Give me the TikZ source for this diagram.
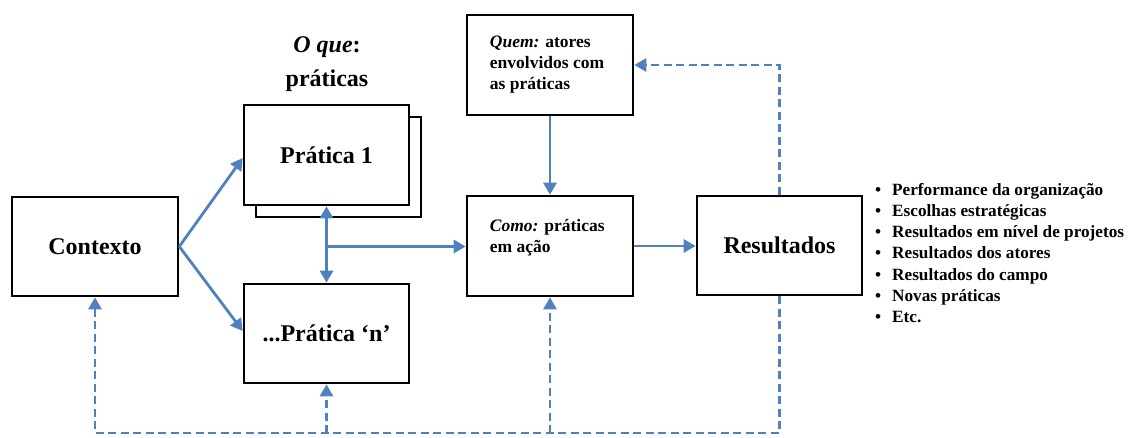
\documentclass[tikz,border=0pt]{standalone}
\usepackage{fontspec}
\setmainfont{Liberation Serif}
\usetikzlibrary{arrows.meta,calc,shadows}
\definecolor{lineblue}{RGB}{79,129,189}
\begin{document}
\begin{tikzpicture}[x=1pt,y=-1pt,
  box/.style={draw=black,line width=2.6pt,fill=white,inner sep=0pt,
    drop shadow={opacity=0.25,shadow xshift=1.2pt,shadow yshift=-1.2pt}},
  bigtxt/.style={font={\fontsize{24}{28}\selectfont\bfseries}},
  smalltxt/.style={font={\fontsize{17.5}{21.2}\selectfont\bfseries},align=left,inner sep=0pt},
  conn/.style={draw=lineblue,line width=2.8pt,-{Triangle[length=12pt,width=13pt]}},
  dconn/.style={draw=lineblue,line width=2.8pt,dash pattern=on 8pt off 4.5pt},
  dtip/.style={-{Triangle[length=12pt,width=13pt]}}
]
\useasboundingbox (0,0) rectangle (1129,437);

% title
\node[anchor=north,align=center,inner sep=0pt,
  font={\fontsize{24}{34}\selectfont\bfseries}] (title) at (327,36)
  {\textit{O que}:\\práticas};

% boxes
\node[box,minimum width=166pt,minimum height=99pt,bigtxt] (ctx) at (95,246.5) {Contexto};
\node[box,minimum width=165pt,minimum height=100pt] (p1s) at (338.5,167) {};
\node[box,minimum width=165pt,minimum height=100pt,bigtxt] (p1) at (326.5,155) {Prática 1};
\node[box,minimum width=165pt,minimum height=99pt,bigtxt] (pn) at (326.5,333.5) {...Prática ‘n’};
\node[box,minimum width=166pt,minimum height=100pt] (quem) at (550,65) {};
\node[box,minimum width=166pt,minimum height=100pt] (como) at (550,246) {};
\node[box,minimum width=165pt,minimum height=99pt,bigtxt] (res) at (779.5,245.5) {Resultados};

\node[smalltxt,anchor=north west] (quemtxt) at ($(quem.north west)+(24,22)$)
  {\textit{Quem:} atores\\envolvidos com\\as práticas};
\node[smalltxt,anchor=north west] (comotxt) at ($(como.north west)+(24,24)$)
  {\textit{Como:} práticas\\em ação};

% bullet list
\node[anchor=north west,align=left,inner sep=0pt,
  font={\fontsize{17.2}{21.2}\selectfont\bfseries}] (list) at (875,183)
  {\makebox[17pt][l]{\textbullet}Performance da organização\\
   \makebox[17pt][l]{\textbullet}Escolhas estratégicas\\
   \makebox[17pt][l]{\textbullet}Resultados em nível de projetos\\
   \makebox[17pt][l]{\textbullet}Resultados dos atores\\
   \makebox[17pt][l]{\textbullet}Resultados do campo\\
   \makebox[17pt][l]{\textbullet}Novas práticas\\
   \makebox[17pt][l]{\textbullet}Etc.};

% solid connectors
\coordinate (split) at (p1.south |- ctx.east);
\draw[conn] (ctx.east) -- ($(p1.west)+(0,3)$);
\draw[conn] (ctx.east) -- ($(pn.west)+(0,-2.5)$);
\draw[conn,{Triangle[length=12pt,width=13pt]}-{Triangle[length=12pt,width=13pt]}] (p1.south) -- (pn.north);
\draw[conn] (split) -- (como.west |- split);
\draw[conn] (quem.south) -- (como.south |- como.north);
\draw[conn] (como.east) -- (res.west |- como.east);

% dashed feedback
\coordinate (tr) at (res.north |- quem.east);
\coordinate (br) at (res.south |- 0,433);
\coordinate (bl) at (ctx.south |- br);
\coordinate (bpn) at (pn.south |- br);
\coordinate (bcomo) at (como.south |- br);
\draw[dconn,dtip] (res.north) -- (tr) -- (quem.east);
\draw[dconn,dtip] (res.south) -- (br) -- (bl) -- (ctx.south);
\draw[dconn,dtip] (bpn) -- (pn.south);
\draw[dconn,dtip] (bcomo) -- (como.south);
\end{tikzpicture}
\end{document}
